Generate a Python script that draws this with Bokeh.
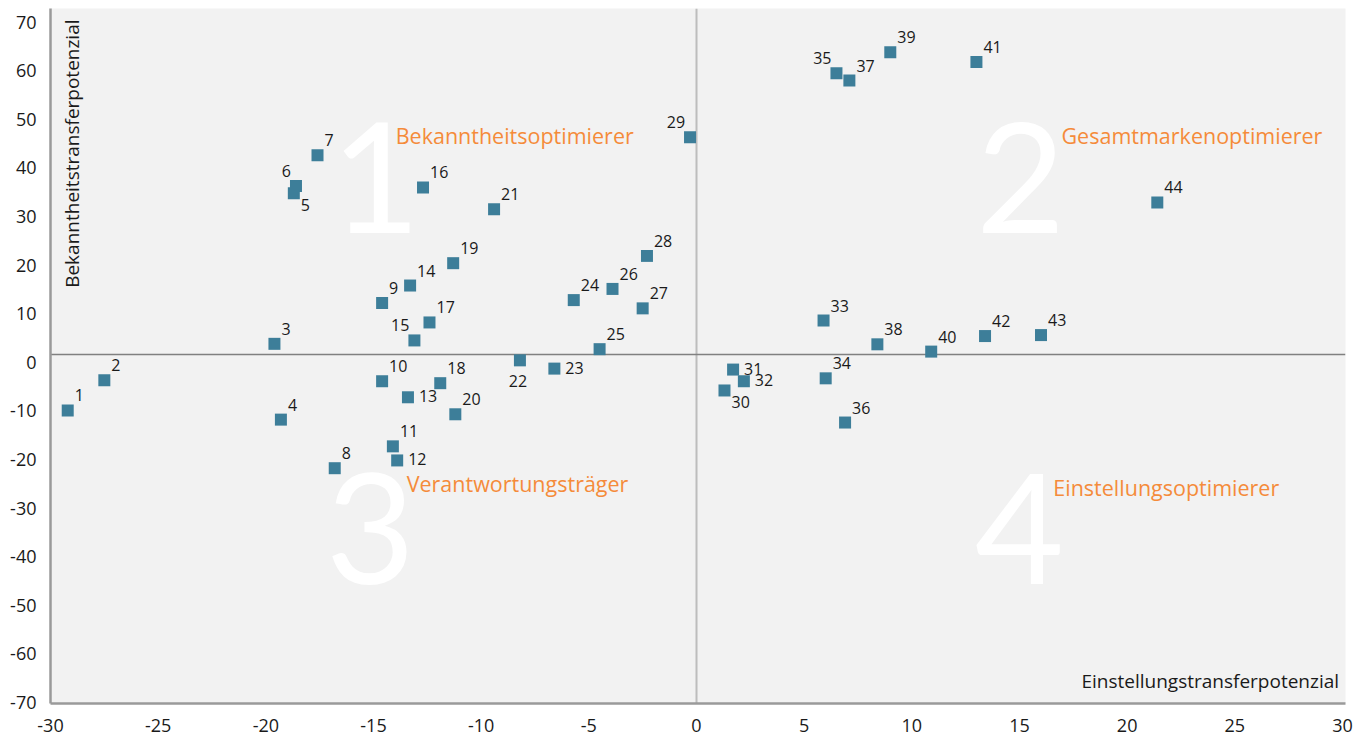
from bokeh.plotting import figure
from bokeh.models import Span, FixedTicker, ColumnDataSource, Range1d
from bokeh.core.properties import value
from bokeh.embed import file_html
from bokeh.resources import INLINE

# ---------------- data ----------------
ids = list(range(1, 45))
x_vals = [-29.2, -27.5, -19.6, -19.3, -18.7, -18.6, -17.6, -16.8, -14.6, -14.6,
          -14.1, -13.9, -13.4, -13.3, -13.1, -12.7, -12.4, -11.9, -11.3, -11.2,
          -9.4, -8.2, -6.6, -5.7, -4.5, -3.9, -2.5, -2.3, -0.3, 1.3,
          1.7, 2.2, 5.9, 6.0, 6.5, 6.9, 7.1, 8.4, 9.0, 10.9,
          13.0, 13.4, 16.0, 21.4]
y_vals = [-9.9, -3.7, 3.8, -11.8, 34.8, 36.3, 42.6, -21.8, 12.2, -3.9,
          -17.3, -20.2, -7.2, 15.8, 4.5, 36.0, 8.2, -4.3, 20.4, -10.7,
          31.5, 0.4, -1.3, 12.8, 2.7, 15.1, 11.1, 21.9, 46.3, -5.8,
          -1.5, -3.9, 8.6, -3.3, 59.5, -12.4, 58.0, 3.7, 63.8, 2.2,
          61.8, 5.4, 5.6, 32.9]

x_ticks = list(range(-30, 31, 5))
y_ticks = list(range(-70, 71, 10))
x_tick_labels = [str(t) for t in x_ticks]
y_tick_labels = [str(t) for t in y_ticks]

x_title = "Einstellungstransferpotenzial"
y_title = "Bekanntheitstransferpotenzial"
quadrant_numbers = ["1", "2", "3", "4"]
quadrant_names = ["Bekanntheitsoptimierer", "Gesamtmarkenoptimierer",
                  "Verantwortungsträger", "Einstellungsoptimierer"]

# label placement (style only): default upper right
placement = {6: "ul", 15: "ul", 29: "ul", 35: "ul",
             13: "r", 23: "r", 32: "r", 12: "r", 31: "r",
             5: "br", 30: "br", 22: "b"}
place_style = {
    "ur": dict(align="left", dx=7, dy=-15),
    "ul": dict(align="right", dx=-5, dy=-15),
    "r": dict(align="left", dx=11, dy=-1),
    "br": dict(align="left", dx=7, dy=12),
    "b": dict(align="center", dx=-2, dy=21),
}

FONT = value("Open Sans")
ORANGE = "#f58b3a"
MARKER = "#3d7e99"

p = figure(width=1356, height=737,
           x_range=Range1d(-30, 30.14), y_range=Range1d(-70.23, 72.82),
           output_backend="svg", toolbar_location=None,
           min_border_left=50, min_border_right=11,
           min_border_top=8, min_border_bottom=34)
p.background_fill_color = "#f2f2f2"
p.border_fill_color = "white"
p.outline_line_color = None
p.grid.visible = False

for ax, ticks, labels, standoff in ((p.xaxis[0], x_ticks, x_tick_labels, 15),
                                    (p.yaxis[0], y_ticks, y_tick_labels, 14)):
    ax.ticker = FixedTicker(ticks=ticks)
    ax.major_label_overrides = {t: l for t, l in zip(ticks, labels)}
    ax.axis_line_color = "#9a9a9a"
    ax.axis_line_width = 2.5
    ax.major_tick_line_color = None
    ax.minor_tick_line_color = None
    ax.major_tick_out = 0
    ax.major_tick_in = 0
    ax.minor_tick_out = 0
    ax.major_label_text_font = "Open Sans"
    ax.major_label_text_font_size = "18px"
    ax.major_label_text_color = "#1a1a1a"
    ax.major_label_standoff = standoff

# reference lines
p.add_layout(Span(location=0, dimension="height", line_color="#bdbdbd",
                  line_width=2, level="underlay"))
p.add_layout(Span(location=1.6, dimension="width", line_color="#808080",
                  line_width=1.5, level="underlay"))

# big white quadrant numbers
num_src = ColumnDataSource(dict(x=[-14.9, 15.05, -15.14, 15.0],
                                y=[38.0, 38.0, -34.2, -34.2],
                                t=quadrant_numbers))
p.text(x="x", y="y", text="t", source=num_src, text_color="white",
       text_font=value("Lato"), text_font_size="154px", text_align="center",
       text_baseline="alphabetic")

# orange quadrant names
name_src = ColumnDataSource(dict(x=[-13.97, 16.95, -13.46, 16.57],
                                 y=[46.75, 46.75, -25.05, -25.75],
                                 t=quadrant_names))
p.text(x="x", y="y", text="t", source=name_src, text_color=ORANGE,
       text_font=FONT, text_font_size="21.5px", text_align="left",
       text_baseline="alphabetic")

# axis titles inside the plot
p.text(x=[29.84], y=[-65.55], text=[x_title], text_color="#1a1a1a",
       text_font=FONT, text_font_size="19px", text_align="right",
       text_baseline="alphabetic")
p.text(x=[-29.02], y=[70.56], text=[y_title], text_color="#1a1a1a",
       text_font=FONT, text_font_size="19px", text_align="right",
       text_baseline="middle", angle=1.5707963)

# markers
src = ColumnDataSource(dict(x=x_vals, y=y_vals, t=[str(i) for i in ids]))
p.scatter(x="x", y="y", source=src, marker="square", size=12,
          fill_color=MARKER, line_color=None)

# point labels grouped by placement
for key, st in place_style.items():
    sel = [k for k, i in enumerate(ids) if placement.get(i, "ur") == key]
    if not sel:
        continue
    s = ColumnDataSource(dict(x=[x_vals[k] for k in sel],
                              y=[y_vals[k] for k in sel],
                              t=[str(ids[k]) for k in sel]))
    p.text(x="x", y="y", text="t", source=s, text_color="#1a1a1a",
           text_font=FONT, text_font_size="16px", text_align=st["align"],
           text_baseline="alphabetic", x_offset=st["dx"], y_offset=st["dy"])

open("out.html", "w").write(file_html(p, INLINE))
